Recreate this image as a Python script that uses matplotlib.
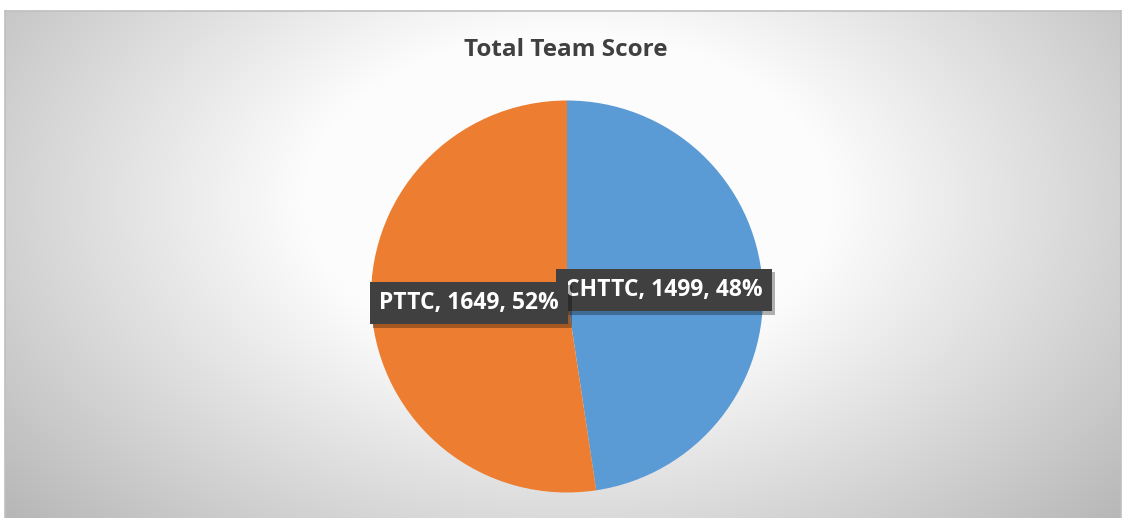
"""plot.py: total team score pie, excel style"""
import matplotlib.pyplot as plt
import matplotlib.patheffects as pe
import numpy as np

W, H = 1123, 518
DPI = 100

teams = ["CHTTC", "PTTC"]
scores = [1499, 1649]
colors = ["#5b9bd5", "#ed7d31"]
title = "Total Team Score"

FONT = "Open Sans"

fig = plt.figure(figsize=(W / DPI, H / DPI), dpi=DPI)
fig.patch.set_facecolor("white")

# background: chart area with a radial grey gradient, lighter near the middle/top
x0, y0 = 5, 11  # chart area top-left (pixels)
bw, bh = W - x0 - 2, H - y0
bg = fig.add_axes([x0 / W, 0, bw / W, bh / H])
xx, yy = np.meshgrid(np.arange(bw), np.arange(bh))
d = np.sqrt(((xx - 562) / 520.0) ** 2 + ((yy - 189) / 330.0) ** 2)
grey = np.clip(290 - 74.5 * d, 180, 252) / 255.0
bg.imshow(np.dstack([grey, grey, grey]), aspect="auto", interpolation="bilinear")
bg.set_axis_off()

# border of the chart area
border = fig.add_axes([x0 / W, 0, bw / W, bh / H], facecolor="none")
border.set_xticks([])
border.set_yticks([])
for s in border.spines.values():
    s.set_color("#bfbfbf")
    s.set_linewidth(1.2)
border.spines["bottom"].set_visible(False)

fig.text(566 / W, 1 - 50 / H, title, ha="center", va="center",
         fontsize=17.5, fontweight="bold", color="#404040", family=FONT)

# pie axes, centre (567, 296.5) px, radius 196 px
cx, cy, r = 567, 296.5, 196
ax = fig.add_axes([(cx - r) / W, (H - cy - r) / H, 2 * r / W, 2 * r / H])
ax.pie(scores, colors=colors, startangle=90, counterclock=False, radius=1,
       wedgeprops=dict(linewidth=0))
ax.set_xlim(-1, 1)
ax.set_ylim(-1, 1)
ax.set_aspect("auto")
ax.set_axis_off()

total = sum(scores)
label_pos = [(0.495, 0.033), (-0.50, -0.033)]
for name, val, (lx, ly) in zip(teams, scores, label_pos):
    txt = "{}, {}, {:.0f}%".format(name, val, 100.0 * val / total)
    t = ax.text(lx, ly, txt, ha="center", va="center", fontsize=16.5,
                fontweight="bold", color="white", family=FONT,
                bbox=dict(boxstyle="square,pad=0.4", fc="#404040", ec="none"))
    t.get_bbox_patch().set_path_effects(
        [pe.SimplePatchShadow(offset=(2.5, -2.5), shadow_rgbFace="black", alpha=0.3),
         pe.Normal()])

fig.savefig("out.png", dpi=DPI)
